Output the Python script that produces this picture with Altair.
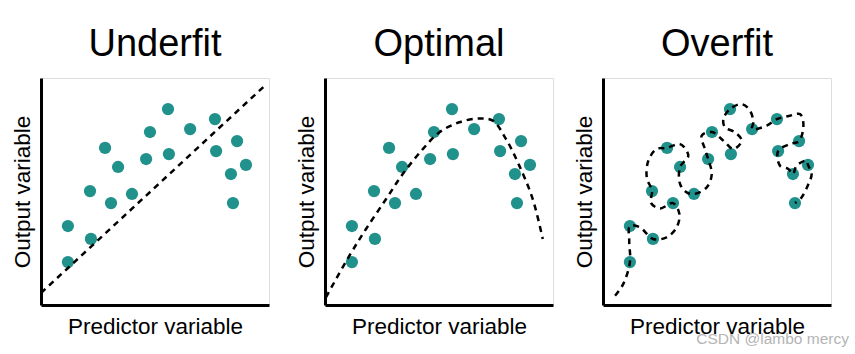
import altair as alt
import pandas as pd

# observed data points (same in all three panels)
pt_x = [1.18, 1.18, 2.19, 2.15, 3.07, 2.81, 3.38, 3.99, 4.61, 4.78,
        5.61, 5.57, 6.54, 7.63, 7.68, 8.60, 8.99, 8.33, 8.42]
pt_y = [1.89, 3.48, 2.91, 5.02, 4.49, 6.92, 6.08, 4.89, 6.43, 7.62,
        6.65, 8.63, 7.75, 8.19, 6.78, 7.22, 6.17, 5.77, 4.49]

# underfit: straight dashed line
under_x = [0.0, 9.9]
under_y = [0.53, 9.74]

# optimal: smooth curve
opt_x = [0.04, 1.07, 1.80, 2.68, 3.41, 4.29, 5.02, 5.89, 6.77, 7.36, 7.94, 8.52, 9.11, 9.55]
opt_y = [0.34, 2.17, 3.35, 4.67, 5.77, 6.87, 7.61, 8.05, 8.22, 8.12, 7.31, 6.14, 4.67, 2.91]

# overfit: looping curve through every point
over_x = [0.53, 0.89, 1.18, 1.15, 1.18, 1.62, 2.19, 2.79, 3.23, 3.35, 3.07, 2.50, 2.10, 2.15,
          1.92, 1.99, 2.35, 2.81, 3.38, 3.74, 3.38, 3.38, 3.67, 3.99, 4.55, 4.77, 4.61, 4.47,
          4.33, 4.78, 5.28, 5.72, 6.08, 5.79, 5.35, 5.28, 5.57, 6.08, 6.45, 6.59, 6.54, 7.18,
          7.63, 8.20, 8.64, 8.79, 8.60, 8.20, 7.68, 7.76, 8.13, 8.33, 8.49, 8.93, 8.99, 9.15,
          9.01, 8.71, 8.42]
over_y = [0.41, 0.93, 1.89, 2.83, 3.48, 3.42, 2.91, 2.98, 3.42, 4.01, 4.49, 4.25, 4.50, 5.02,
          5.62, 6.36, 6.87, 6.92, 7.09, 6.58, 6.08, 5.33, 4.96, 4.89, 5.18, 5.77, 6.43, 6.87,
          7.46, 7.62, 7.24, 6.87, 7.24, 7.61, 7.83, 8.19, 8.63, 8.85, 8.56, 8.05, 7.75, 7.90,
          8.19, 8.34, 8.41, 7.97, 7.22, 7.09, 6.78, 6.14, 5.99, 5.77, 6.14, 6.36, 6.17, 5.77,
          5.33, 4.74, 4.49]

titles = ["Underfit", "Optimal", "Overfit"]
curves = [(under_x, under_y), (opt_x, opt_y), (over_x, over_y)]

FONT = "Liberation Sans"
TEAL = "#21918c"


def make_axis(title_pad):
    return alt.Axis(ticks=False, labels=False, grid=False, domainColor="black",
                    domainWidth=3, titleFontSize=22.5, titleFont=FONT,
                    titleFontWeight="normal", titleColor="black", titlePadding=title_pad)


def panel(i):
    cx, cy = curves[i]
    pts = pd.DataFrame({"x": pt_x, "y": pt_y})
    cur = pd.DataFrame({"x": cx, "y": cy, "order": list(range(len(cx)))})
    xs = alt.Scale(domain=[0, 10], nice=False, zero=False)
    ys = alt.Scale(domain=[0, 10], nice=False, zero=False)
    X = alt.X("x:Q", scale=xs, axis=make_axis(10), title="Predictor variable")
    Y = alt.Y("y:Q", scale=ys, axis=make_axis(7), title="Output variable")
    dots = alt.Chart(pts).mark_circle(size=150, color=TEAL, opacity=1).encode(x=X, y=Y)
    line = alt.Chart(cur).mark_line(color="black", strokeDash=[6, 5], strokeWidth=2.5,
                                    interpolate="catmull-rom").encode(x=X, y=Y, order="order:Q")
    layers = [dots, line]
    if i == 2:
        wm = alt.Chart(pd.DataFrame({"t": ["CSDN @lambo mercy"]})).mark_text(
            align="right", baseline="alphabetic", fontSize=15.5, font=FONT, color="#b4b4b4"
        ).encode(text="t:N", x=alt.value(246), y=alt.value(266))
        layers.append(wm)
    return alt.layer(*layers).properties(
        width=228, height=227,
        title=alt.TitleParams(titles[i], fontSize=38, font=FONT, fontWeight="normal",
                              color="black", anchor="middle", frame="group",
                              baseline="bottom", offset=-24))


left_pair = alt.hconcat(panel(0), panel(1), spacing=21)
chart = alt.hconcat(left_pair, panel(2), spacing=18).properties(
    padding={"left": 10, "top": 25, "right": 0, "bottom": 0}
).configure_view(stroke=None).configure(background="white")

chart.save("out.html", embed_options={"renderer": "svg", "actions": False})
